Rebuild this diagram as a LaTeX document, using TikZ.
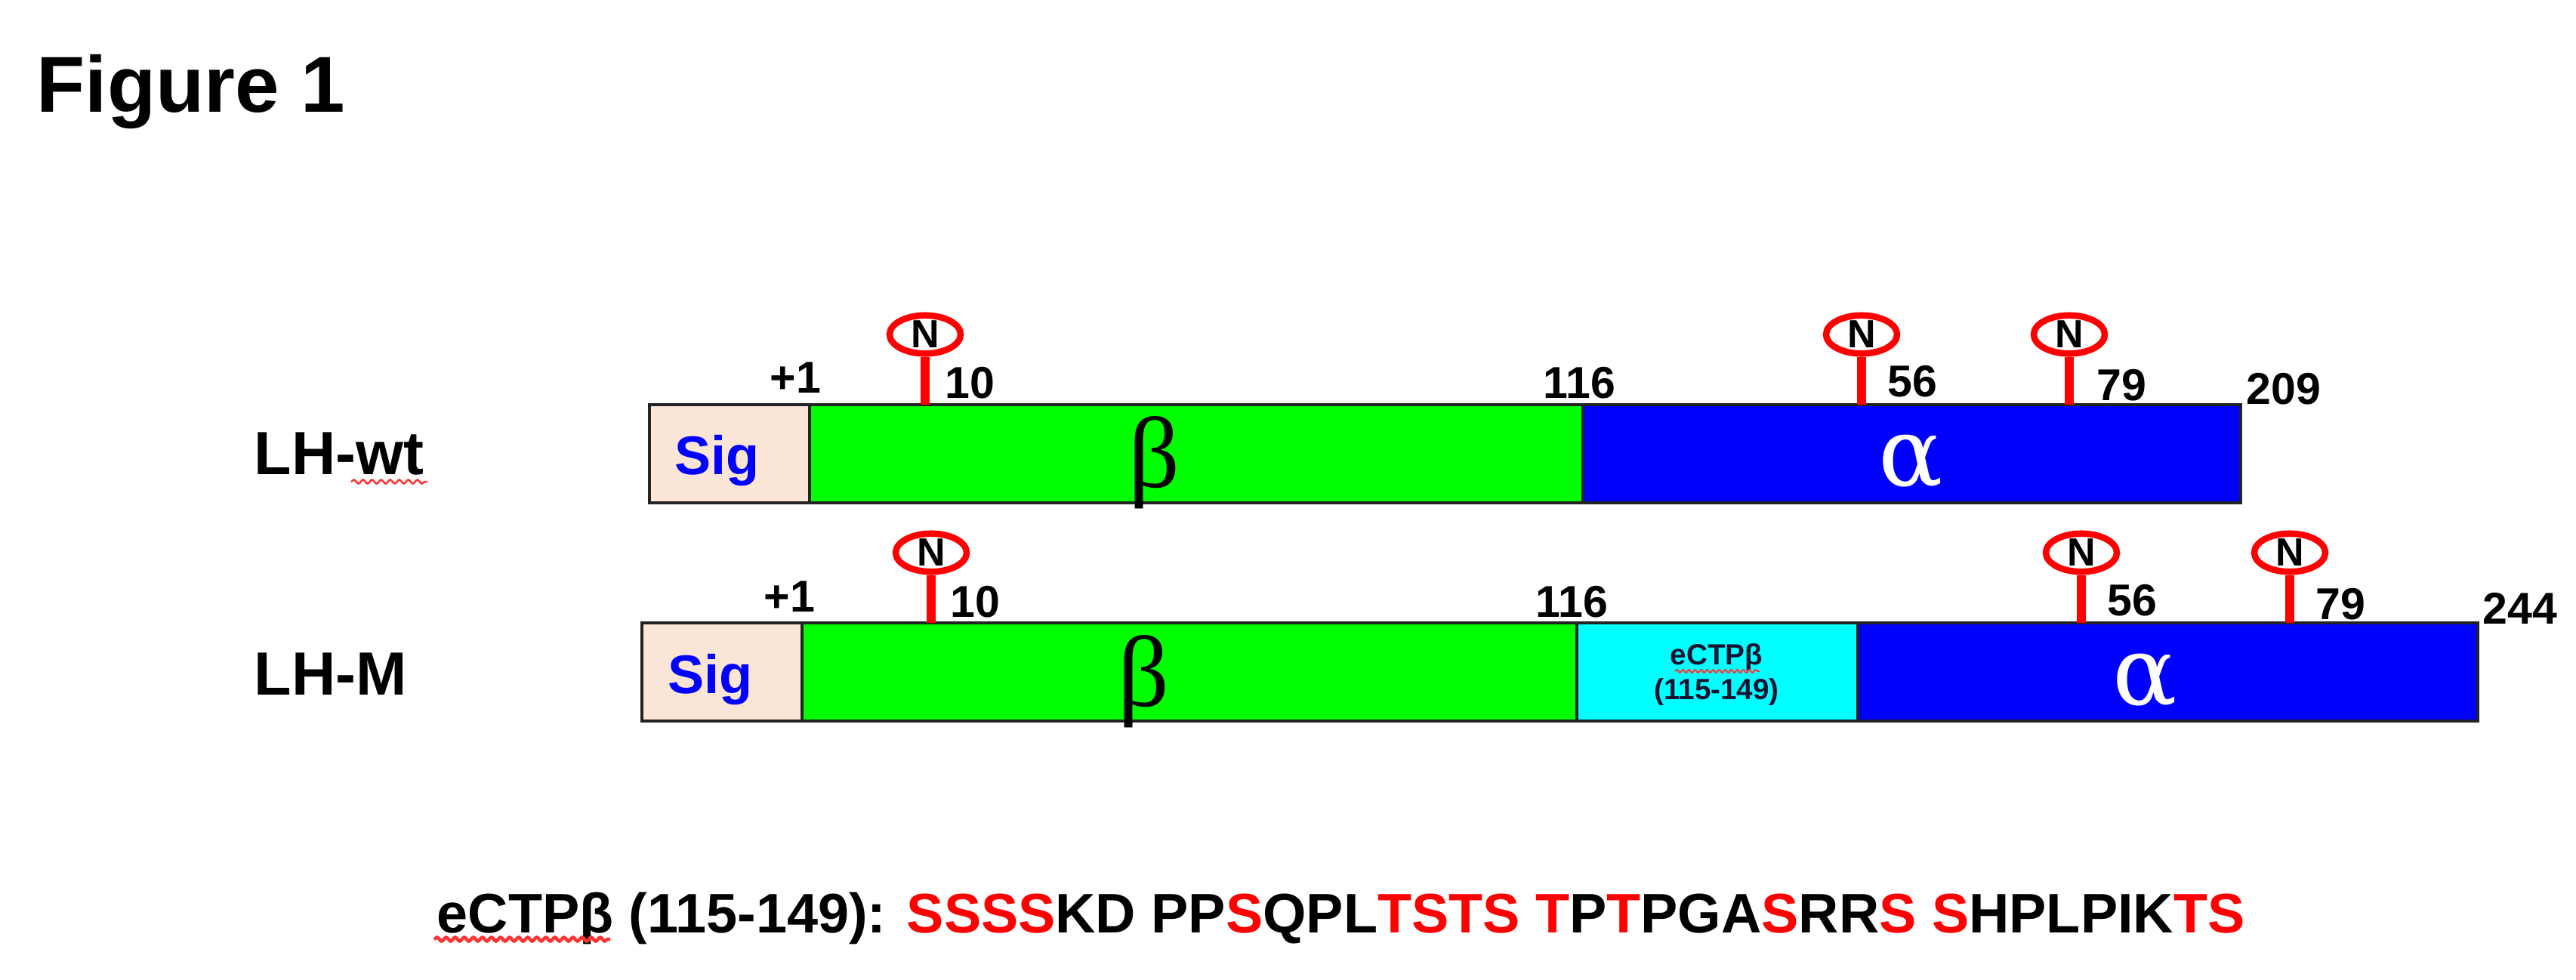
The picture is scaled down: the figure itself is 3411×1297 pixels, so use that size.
\documentclass[tikz,border=0pt]{standalone}
\usepackage{fontspec}
\setmainfont{Liberation Sans}
\newfontfamily\grk{Liberation Serif}
\newfontfamily\grka{DejaVu Serif}
\usetikzlibrary{shapes.geometric,decorations.pathmorphing}
\definecolor{sigfill}{RGB}{251,229,214}
\definecolor{lhgreen}{RGB}{0,255,0}
\definecolor{lhblue}{RGB}{0,0,255}
\definecolor{lhcyan}{RGB}{0,255,255}
\definecolor{lhred}{RGB}{255,0,0}
\definecolor{boxline}{RGB}{35,35,35}
\definecolor{ctptext}{RGB}{20,20,50}
\newcommand\fsz[1]{\fontsize{#1}{#1}\selectfont}
\newcommand\rd[1]{\textcolor{lhred}{#1}}
\begin{document}
\begin{tikzpicture}[x=0.1mm,y=-0.1mm,
  seg/.style={draw=boxline, line width=0.4mm, inner sep=0, outer sep=0, anchor=north west, minimum height=12.95mm},
  num/.style={font=\bfseries\fsz{16.8pt}, inner sep=0, anchor=base west},
  rowlabel/.style={font=\bfseries\fsz{23pt}, inner sep=0, anchor=base west},
  siglabel/.style={font=\bfseries\fsz{20.5pt}, text=lhblue, inner sep=0, anchor=base west},
  greek/.style={font=\grk\fsz{38pt}, inner sep=0, anchor=base},
  greeka/.style={font=\grka\fsz{36pt}, text=white, inner sep=0, anchor=base},
  glyc/.style={ellipse, draw=lhred, line width=0.85mm, minimum width=9.4mm, minimum height=5.0mm, inner sep=0, font=\bfseries\fsz{14.8pt}},
  stalk/.style={draw=lhred, line width=1.2mm},
  squig/.style={draw=lhred!80, line width=0.25mm, decorate, decoration={snake, segment length=1.2mm, amplitude=0.25mm}}]
\useasboundingbox (0,0) rectangle (3411,1297);

% title
\node[font=\bfseries\fsz{29.9pt}, inner sep=0, anchor=base west] (title) at (48,148) {Figure 1};

% ---------- row 1: LH-wt ----------
\node[rowlabel] (lab1) at (336,628) {LH-wt};
\draw[squig] (465,638) -- (566,638);
\node[seg, fill=sigfill, minimum width=21.2mm] (sig1) at (860,536) {};
\node[seg, fill=lhgreen, minimum width=102.4mm] (beta1) at (1072,536) {};
\node[seg, fill=lhblue, minimum width=87.1mm] (alpha1) at (2096,536) {};
\node[siglabel] (sigt1) at (893,628) {Sig};
\node[greek] (betat1) at (1528,645) {β};
\node[greeka] (alphat1) at (2530,643) {α};
\node[num] (p1a) at (1019,520) {+1};
\node[num] (p10a) at (1251,527) {10};
\node[num] (p116a) at (2043,527) {116};
\node[num] (p56a) at (2499,525) {56};
\node[num] (p79a) at (2776,530) {79};
\node[num] (p209a) at (2974,535) {209};
\node[glyc] (g10a) at (1225,443) {N};
\node[glyc] (g56a) at (2465,443) {N};
\node[glyc] (g79a) at (2740,443) {N};
\draw[stalk] (g10a.south) -- (g10a.south |- beta1.north);
\draw[stalk] (g56a.south) -- (g56a.south |- alpha1.north);
\draw[stalk] (g79a.south) -- (g79a.south |- alpha1.north);

% ---------- row 2: LH-M ----------
\node[rowlabel] (lab2) at (336,920) {LH-M};
\node[seg, fill=sigfill, minimum width=21.2mm] (sig2) at (850,825) {};
\node[seg, fill=lhgreen, minimum width=102.6mm] (beta2) at (1062,825) {};
\node[seg, fill=lhcyan, minimum width=37.2mm] (ctp2) at (2088,825) {};
\node[seg, fill=lhblue, minimum width=82.1mm] (alpha2) at (2460,825) {};
\node[siglabel] (sigt2) at (884,918) {Sig};
\node[greek] (betat2) at (1514,935) {β};
\node[greeka] (alphat2) at (2840,933) {α};
\node[font=\bfseries\fsz{11pt}, text=ctptext, inner sep=0, anchor=base] (ctpt1) at (2273,880) {eCTPβ};
\node[font=\bfseries\fsz{11pt}, text=ctptext, inner sep=0, anchor=base] (ctpt2) at (2273,926) {(115-149)};
\draw[squig, line width=0.2mm, decoration={snake, segment length=0.8mm, amplitude=0.2mm}] (2218,889) -- (2330,889);
\node[num] (p1b) at (1011,810) {+1};
\node[num] (p10b) at (1258,817) {10};
\node[num] (p116b) at (2033,817) {116};
\node[num] (p56b) at (2790,815) {56};
\node[num] (p79b) at (3066,820) {79};
\node[num] (p244b) at (3287,826) {244};
\node[glyc] (g10b) at (1233,732) {N};
\node[glyc] (g56b) at (2756,732) {N};
\node[glyc] (g79b) at (3032,732) {N};
\draw[stalk] (g10b.south) -- (g10b.south |- beta2.north);
\draw[stalk] (g56b.south) -- (g56b.south |- alpha2.north);
\draw[stalk] (g79b.south) -- (g79b.south |- alpha2.north);

% ---------- sequence ----------
\node[font=\bfseries\fsz{21pt}, inner sep=0, anchor=base west] (seq) at (578,1235)
  {eCTPβ (115-149): \rd{SSSS}KD PP\rd{S}QPL\rd{TSTS} \rd{T}P\rd{T}PGA\rd{S}RR\rd{S} \rd{S}HPLPIK\rd{TS}};
\draw[squig, line width=0.45mm] (575,1244) -- (808,1244);
\end{tikzpicture}
\end{document}
